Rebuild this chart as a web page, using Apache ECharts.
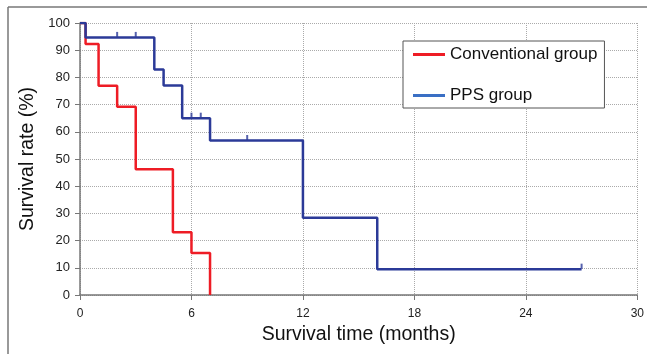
<!DOCTYPE html>
<html>
<head>
<meta charset="utf-8">
<script src="https://cdn.jsdelivr.net/npm/echarts@6/dist/echarts.min.js"></script>
<style>
    html,body{margin:0;padding:0;background:#fff;}
    #chart{width:647px;height:354px;}
</style>
</head>
<body>
<div id="chart"></div>
<script>
    // Kaplan-Meier steps
    const convTime = [0, 0.3, 1, 2, 3, 5, 6, 7]
    const convSurv = [100, 92.3, 76.9, 69.2, 46.2, 23.1, 15.4, 0]
    const ppsTime = [0, 0.3, 4, 4.5, 5.5, 7, 12, 16, 27]
    const ppsSurv = [100, 94.7, 82.9, 77.0, 65.0, 56.8, 28.4, 9.5, 9.5]
    // censored patients (PPS group)
    const censorTime = [2, 3, 6, 6.5, 9, 27]
    const censorSurv = [94.7, 94.7, 65.0, 65.0, 56.8, 9.5]
    const xTicks = [0, 6, 12, 18, 24, 30]
    const yTicks = [0, 10, 20, 30, 40, 50, 60, 70, 80, 90, 100]

    const zip = (a, b) => a.map((v, i) => [v, b[i]])
    const font = 'Liberation Sans, Arial, sans-serif'

    const mychart = echarts.init(document.getElementById('chart'))
    mychart.setOption({
        animation: false,
        textStyle: {fontFamily: font},
        grid: {left: 80, right: 9, top: 23, bottom: 59},
        graphic: [
            // frame lines (top and left only)
            {type: 'line', shape: {x1: 8, y1: 7, x2: 647, y2: 7}, style: {stroke: '#777', lineWidth: 1.5}},
            {type: 'line', shape: {x1: 8, y1: 7, x2: 8, y2: 354}, style: {stroke: '#777', lineWidth: 1.5}}
        ],
        legend: {
            left: 403,
            top: 41,
            orient: 'vertical',
            itemWidth: 32,
            itemHeight: 3,
            itemGap: 24,
            icon: 'rect',
            padding: [5, 7, 4, 10],
            borderColor: '#555',
            borderWidth: 1,
            backgroundColor: '#fff',
            textStyle: {fontSize: 17, color: '#111', fontFamily: font},
            data: [
                {name: 'Conventional group', itemStyle: {color: '#ee1c25'}},
                {name: 'PPS group', itemStyle: {color: '#3a6fc4'}}
            ]
        },
        xAxis: {
            type: 'value',
            min: xTicks[0],
            max: xTicks[xTicks.length - 1],
            interval: 6,
            name: 'Survival time (months)',
            nameLocation: 'middle',
            nameGap: 27,
            nameTextStyle: {fontSize: 19.5, color: '#111'},
            axisLine: {show: true, lineStyle: {color: '#777', width: 1.5}},
            axisTick: {show: true, length: 5, lineStyle: {color: '#777'}},
            axisLabel: {color: '#222', fontSize: 12, margin: 13},
            splitLine: {show: true, lineStyle: {color: '#aaa', type: 'dotted'}}
        },
        yAxis: {
            type: 'value',
            min: yTicks[0],
            max: yTicks[yTicks.length - 1],
            interval: 10,
            name: 'Survival rate (%)',
            nameLocation: 'middle',
            nameGap: 42,
            nameTextStyle: {fontSize: 19.5, color: '#111'},
            axisLine: {show: true, lineStyle: {color: '#777', width: 1.5}},
            axisTick: {show: true, length: 5, lineStyle: {color: '#777'}},
            axisLabel: {color: '#222', fontSize: 13, margin: 10},
            splitLine: {show: true, lineStyle: {color: '#aaa', type: 'dotted'}}
        },
        series: [
            {
                name: 'Conventional group',
                type: 'line',
                step: 'end',
                data: zip(convTime, convSurv),
                showSymbol: false,
                lineStyle: {color: '#ee1c25', width: 2.5},
                itemStyle: {color: '#ee1c25'},
                z: 3
            },
            {
                name: 'PPS group',
                type: 'line',
                step: 'end',
                data: zip(ppsTime, ppsSurv),
                showSymbol: false,
                lineStyle: {color: '#2b3a98', width: 2.5},
                itemStyle: {color: '#2b3a98'},
                z: 4
            },
            {
                name: 'censored',
                type: 'scatter',
                data: zip(censorTime, censorSurv),
                symbol: 'rect',
                symbolSize: [2, 5],
                symbolOffset: [0, -3],
                itemStyle: {color: '#2b3a98'},
                z: 5
            }
        ]
    })
</script>
</body>
</html>
